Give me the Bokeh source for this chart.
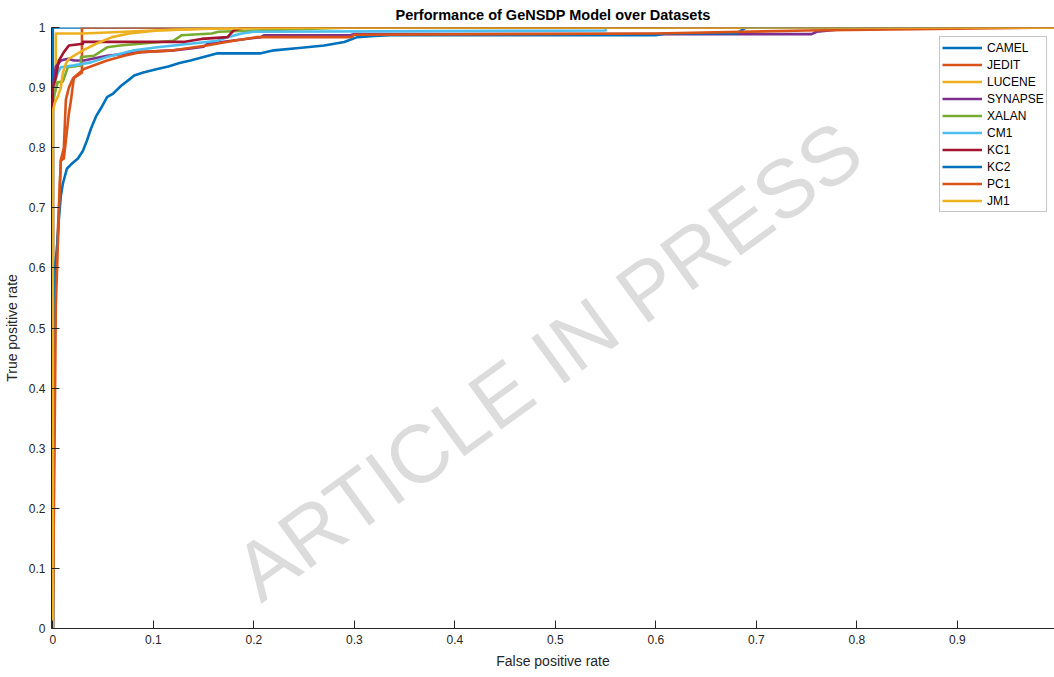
from bokeh.plotting import figure
from bokeh.models import Range1d, FixedTicker, CustomJSTickFormatter, Legend, LegendItem
from bokeh.core.properties import value
from bokeh.embed import file_html
from bokeh.resources import INLINE

# ---- data ----
camel_fpr = [0.0, 0.0, 1.0]
camel_tpr = [0.0, 1.0, 1.0]

jedit_fpr = [0.0, 0.002, 0.004, 0.006, 0.008, 0.011, 0.013, 0.016, 0.020, 0.029, 0.029, 1.0]
jedit_tpr = [0.0, 0.54, 0.62, 0.70, 0.78, 0.80, 0.88, 0.90, 0.915, 0.925, 1.0, 1.0]

lucene_fpr = [0.0, 0.0, 0.003, 0.003, 0.030, 0.060, 0.100, 0.150, 0.200, 1.0]
lucene_tpr = [0.0, 0.87, 0.90, 0.99, 0.99, 0.992, 0.995, 0.998, 1.0, 1.0]

synapse_fpr = [0.0, 0.0, 0.003, 0.008, 0.015, 0.021, 0.031, 0.054, 0.087, 0.120, 0.137, 0.150, 0.154, 0.207,
               0.210, 0.296, 0.300, 0.755, 0.760, 0.785, 0.790, 1.0]
synapse_tpr = [0.0, 0.90, 0.935, 0.945, 0.948, 0.945, 0.945, 0.953, 0.959, 0.962, 0.965, 0.968, 0.973, 0.984,
               0.987, 0.987, 0.989, 0.989, 0.993, 0.997, 1.0, 1.0]

xalan_fpr = [0.0, 0.0, 0.005, 0.010, 0.015, 0.028, 0.028, 0.041, 0.054, 0.067, 0.087, 0.120, 0.128, 0.158,
             0.165, 0.200, 0.300, 1.0]
xalan_tpr = [0.0, 0.88, 0.909, 0.910, 0.934, 0.937, 0.951, 0.953, 0.967, 0.970, 0.973, 0.978, 0.987, 0.990,
             0.993, 0.995, 1.0, 1.0]

cm1_fpr = [0.0, 0.0, 0.005, 0.008, 0.021, 0.038, 0.054, 0.081, 0.104, 0.137, 0.164, 0.174, 0.188, 0.200,
           0.550, 0.550, 1.0]
cm1_tpr = [0.0, 0.90, 0.925, 0.934, 0.937, 0.942, 0.951, 0.962, 0.967, 0.973, 0.978, 0.984, 0.990, 0.993,
           0.995, 1.0, 1.0]

kc1_fpr = [0.0, 0.0, 0.003, 0.006, 0.011, 0.016, 0.030, 0.030, 0.130, 0.148, 0.174, 0.177, 0.180, 0.190, 1.0]
kc1_tpr = [0.0, 0.90, 0.917, 0.945, 0.959, 0.970, 0.973, 0.976, 0.976, 0.981, 0.984, 0.990, 0.995, 1.0, 1.0]

kc2_fpr = [0.0, 0.002, 0.004, 0.006, 0.008, 0.010, 0.014, 0.018, 0.025, 0.030, 0.034, 0.038, 0.043, 0.048,
           0.054, 0.060, 0.068, 0.075, 0.081, 0.090, 0.104, 0.115, 0.126, 0.137, 0.150, 0.164, 0.185, 0.207,
           0.220, 0.245, 0.270, 0.280, 0.290, 0.303, 0.320, 0.336, 0.340, 0.600, 0.610, 0.680, 0.690, 1.0]
kc2_tpr = [0.0, 0.60, 0.63, 0.68, 0.72, 0.74, 0.765, 0.772, 0.782, 0.795, 0.812, 0.832, 0.852, 0.866,
           0.884, 0.890, 0.903, 0.912, 0.920, 0.925, 0.931, 0.935, 0.941, 0.945, 0.951, 0.957, 0.957, 0.957,
           0.962, 0.966, 0.970, 0.973, 0.976, 0.984, 0.986, 0.987, 0.987, 0.987, 0.990, 0.990, 1.0, 1.0]

pc1_fpr = [0.0, 0.003, 0.006, 0.008, 0.011, 0.016, 0.018, 0.021, 0.031, 0.054, 0.071, 0.087, 0.120, 0.153,
           0.180, 0.203, 0.297, 0.300, 0.600, 0.750, 1.0]
pc1_tpr = [0.0, 0.535, 0.69, 0.779, 0.782, 0.857, 0.878, 0.917, 0.931, 0.945, 0.953, 0.959, 0.962, 0.970,
           0.978, 0.984, 0.984, 0.988, 0.990, 0.995, 1.0]

jm1_fpr = [0.0, 0.0, 0.002, 0.005, 0.008, 0.010, 0.013, 0.016, 0.030, 0.043, 0.059, 0.076, 0.104, 0.154,
           0.300, 1.0]
jm1_tpr = [0.0, 0.86, 0.875, 0.885, 0.90, 0.925, 0.940, 0.948, 0.962, 0.973, 0.984, 0.990, 0.995, 0.998,
           1.0, 1.0]

series_names = ["CAMEL", "JEDIT", "LUCENE", "SYNAPSE", "XALAN", "CM1", "KC1", "KC2", "PC1", "JM1"]
series_fpr = [camel_fpr, jedit_fpr, lucene_fpr, synapse_fpr, xalan_fpr, cm1_fpr, kc1_fpr, kc2_fpr, pc1_fpr, jm1_fpr]
series_tpr = [camel_tpr, jedit_tpr, lucene_tpr, synapse_tpr, xalan_tpr, cm1_tpr, kc1_tpr, kc2_tpr, pc1_tpr, jm1_tpr]
series_colors = ["#0072BD", "#D95319", "#EDB120", "#7E2F8E", "#77AC30", "#4DBEEE", "#A2142F",
                 "#0072BD", "#D95319", "#EDB120"]

x_ticks = [0, 0.1, 0.2, 0.3, 0.4, 0.5, 0.6, 0.7, 0.8, 0.9]
y_ticks = [0, 0.1, 0.2, 0.3, 0.4, 0.5, 0.6, 0.7, 0.8, 0.9, 1]

FONT = "Liberation Sans"
AX = "#262626"

p = figure(width=1054, height=677, output_backend="svg", toolbar_location=None,
           x_range=Range1d(-0.0013, 0.9967), y_range=Range1d(0, 1),
           min_border_left=51, min_border_right=0, min_border_top=27, min_border_bottom=49,
           title="Performance of GeNSDP Model over Datasets")
p.background_fill_color = "white"
p.border_fill_color = "white"
p.outline_line_color = None
p.grid.visible = False

p.title.align = "center"
p.title.text_font = FONT
p.title.text_font_size = "14.5px"
p.title.text_font_style = "bold"
p.title.text_color = "#000000"
p.title.standoff = 9
p.title.offset = 0

fmt = CustomJSTickFormatter(code="var s = tick.toFixed(1); if (s.endsWith('.0')) s = s.slice(0, -2); return s;")

for ax, ticks in ((p.xaxis[0], x_ticks), (p.yaxis[0], y_ticks)):
    ax.ticker = FixedTicker(ticks=ticks)
    ax.formatter = fmt
    ax.major_tick_in = 8
    ax.major_tick_out = 0
    ax.minor_tick_line_color = None
    ax.axis_line_color = AX
    ax.major_tick_line_color = AX
    ax.major_label_text_font = FONT
    ax.major_label_text_font_size = "12px"
    ax.major_label_text_color = AX
    ax.axis_label_text_font = FONT
    ax.axis_label_text_font_size = "14px"
    ax.axis_label_text_font_style = "normal"
    ax.axis_label_text_color = AX

p.xaxis.axis_label = "False positive rate"
p.yaxis.axis_label = "True positive rate"
p.xaxis.major_label_standoff = 6
p.yaxis.major_label_standoff = 6
p.xaxis.axis_label_standoff = 6
p.yaxis.axis_label_standoff = 6

# watermark
p.text(x=[0.4925], y=[0.446], text=["ARTICLE IN PRESS"], angle=36, angle_units="deg",
       text_font=value(FONT), text_font_size="82px", text_color="#dcdcdc",
       text_align="center", text_baseline="middle")

items = []
for name, fx, ty, col in zip(series_names, series_fpr, series_tpr, series_colors):
    r = p.line(fx, ty, line_color=col, line_width=2.6, line_join="round")
    items.append(LegendItem(label=name, renderers=[r]))

legend = Legend(items=items, location=(888, 416))
legend.label_text_font = FONT
legend.label_text_font_size = "12px"
legend.label_text_color = "#000000"
legend.glyph_width = 40
legend.glyph_height = 17
legend.label_height = 17
legend.spacing = 0
legend.padding = 2
legend.margin = 0
legend.label_standoff = 5
legend.border_line_color = "#8c8c8c"
legend.border_line_width = 1
legend.background_fill_color = "white"
legend.background_fill_alpha = 1
p.add_layout(legend)

open("out.html", "w").write(file_html(p, INLINE))
